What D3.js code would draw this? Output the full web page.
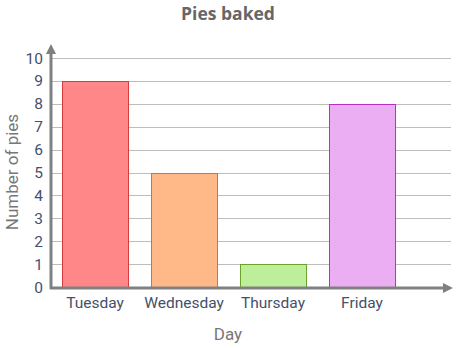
<!DOCTYPE html>
<html>
<head>
<meta charset="utf-8">
<script src="https://cdn.jsdelivr.net/npm/d3@7"></script>
<style>
  body { margin: 0; background: #fff; }
  svg { display: block; font-family: Roboto, sans-serif; }
</style>
</head>
<body>
<div id="chart"></div>
<script>
const days = ["Tuesday", "Wednesday", "Thursday", "Friday"];
const pies = [9, 5, 1, 8];
const fills = ["#ff8787", "#ffb887", "#bdef9a", "#ecaef2"];
const strokes = ["#d63a3a", "#c9763a", "#6aa22c", "#b82ec6"];
const yTicks = [0, 1, 2, 3, 4, 5, 6, 7, 8, 9, 10];

const width = 460;
const height = 348;
const axisColor = "#808080";

const svg = d3.select("#chart").append("svg")
  .attr("width", width)
  .attr("height", height);

// Scales.
const x = d3.scaleBand()
  .domain(days)
  .range([51, 406])
  .paddingInner(0.258)
  .paddingOuter(0.124);

const y = d3.scaleLinear()
  .domain([0, 10])
  .range([287, 58]);

// Title.
svg.append("text")
  .attr("x", 228)
  .attr("y", 20)
  .attr("text-anchor", "middle")
  .attr("font-size", 17.5)
  .attr("font-weight", "bold")
  .attr("font-family", "'Open Sans', sans-serif")
  .attr("fill", "#666")
  .text("Pies baked");

// Gridlines.
svg.append("g")
  .selectAll("line")
  .data(yTicks.filter((d) => d > 0))
  .join("line")
  .attr("x1", 51)
  .attr("x2", 451)
  .attr("y1", (d) => Math.round(y(d)) + 0.5)
  .attr("y2", (d) => Math.round(y(d)) + 0.5)
  .attr("stroke", "#bdbdbd")
  .attr("stroke-width", 1);

// Bars.
svg.append("g")
  .selectAll("rect")
  .data(days)
  .join("rect")
  .attr("x", (d) => Math.round(x(d)) + 0.5)
  .attr("y", (d, i) => Math.round(y(pies[i])) + 0.5)
  .attr("width", x.bandwidth())
  .attr("height", (d, i) => y(0) - Math.round(y(pies[i])))
  .attr("fill", (d, i) => fills[i])
  .attr("stroke", (d, i) => strokes[i])
  .attr("stroke-width", 1);

// Y tick labels.
svg.append("g")
  .selectAll("text")
  .data(yTicks)
  .join("text")
  .attr("x", 43)
  .attr("y", (d) => y(d))
  .attr("dy", "0.36em")
  .attr("text-anchor", "end")
  .attr("font-size", 15.5)
  .attr("fill", "#45506a")
  .text((d) => d);

// X tick labels.
svg.append("g")
  .selectAll("text")
  .data(days)
  .join("text")
  .attr("x", (d) => x(d) + x.bandwidth() / 2)
  .attr("y", 308)
  .attr("text-anchor", "middle")
  .attr("font-size", 15.5)
  .attr("fill", "#45506a")
  .text((d) => d);

// Axes with arrows.
svg.append("line")
  .attr("x1", 51).attr("x2", 51)
  .attr("y1", 289).attr("y2", 52)
  .attr("stroke", axisColor)
  .attr("stroke-width", 3);
svg.append("path")
  .attr("d", "M51,44 L46,54 L56,54 Z")
  .attr("fill", axisColor);

svg.append("line")
  .attr("x1", 50).attr("x2", 444)
  .attr("y1", 288).attr("y2", 288)
  .attr("stroke", axisColor)
  .attr("stroke-width", 3);
svg.append("path")
  .attr("d", "M453,288 L443,283 L443,293 Z")
  .attr("fill", axisColor);

// Axis titles.
svg.append("text")
  .attr("x", 228)
  .attr("y", 340)
  .attr("text-anchor", "middle")
  .attr("font-size", 17)
  .attr("fill", "#777")
  .text("Day");

svg.append("text")
  .attr("transform", "translate(18,172) rotate(-90)")
  .attr("text-anchor", "middle")
  .attr("font-size", 17)
  .attr("fill", "#777")
  .text("Number of pies");
</script>
</body>
</html>
